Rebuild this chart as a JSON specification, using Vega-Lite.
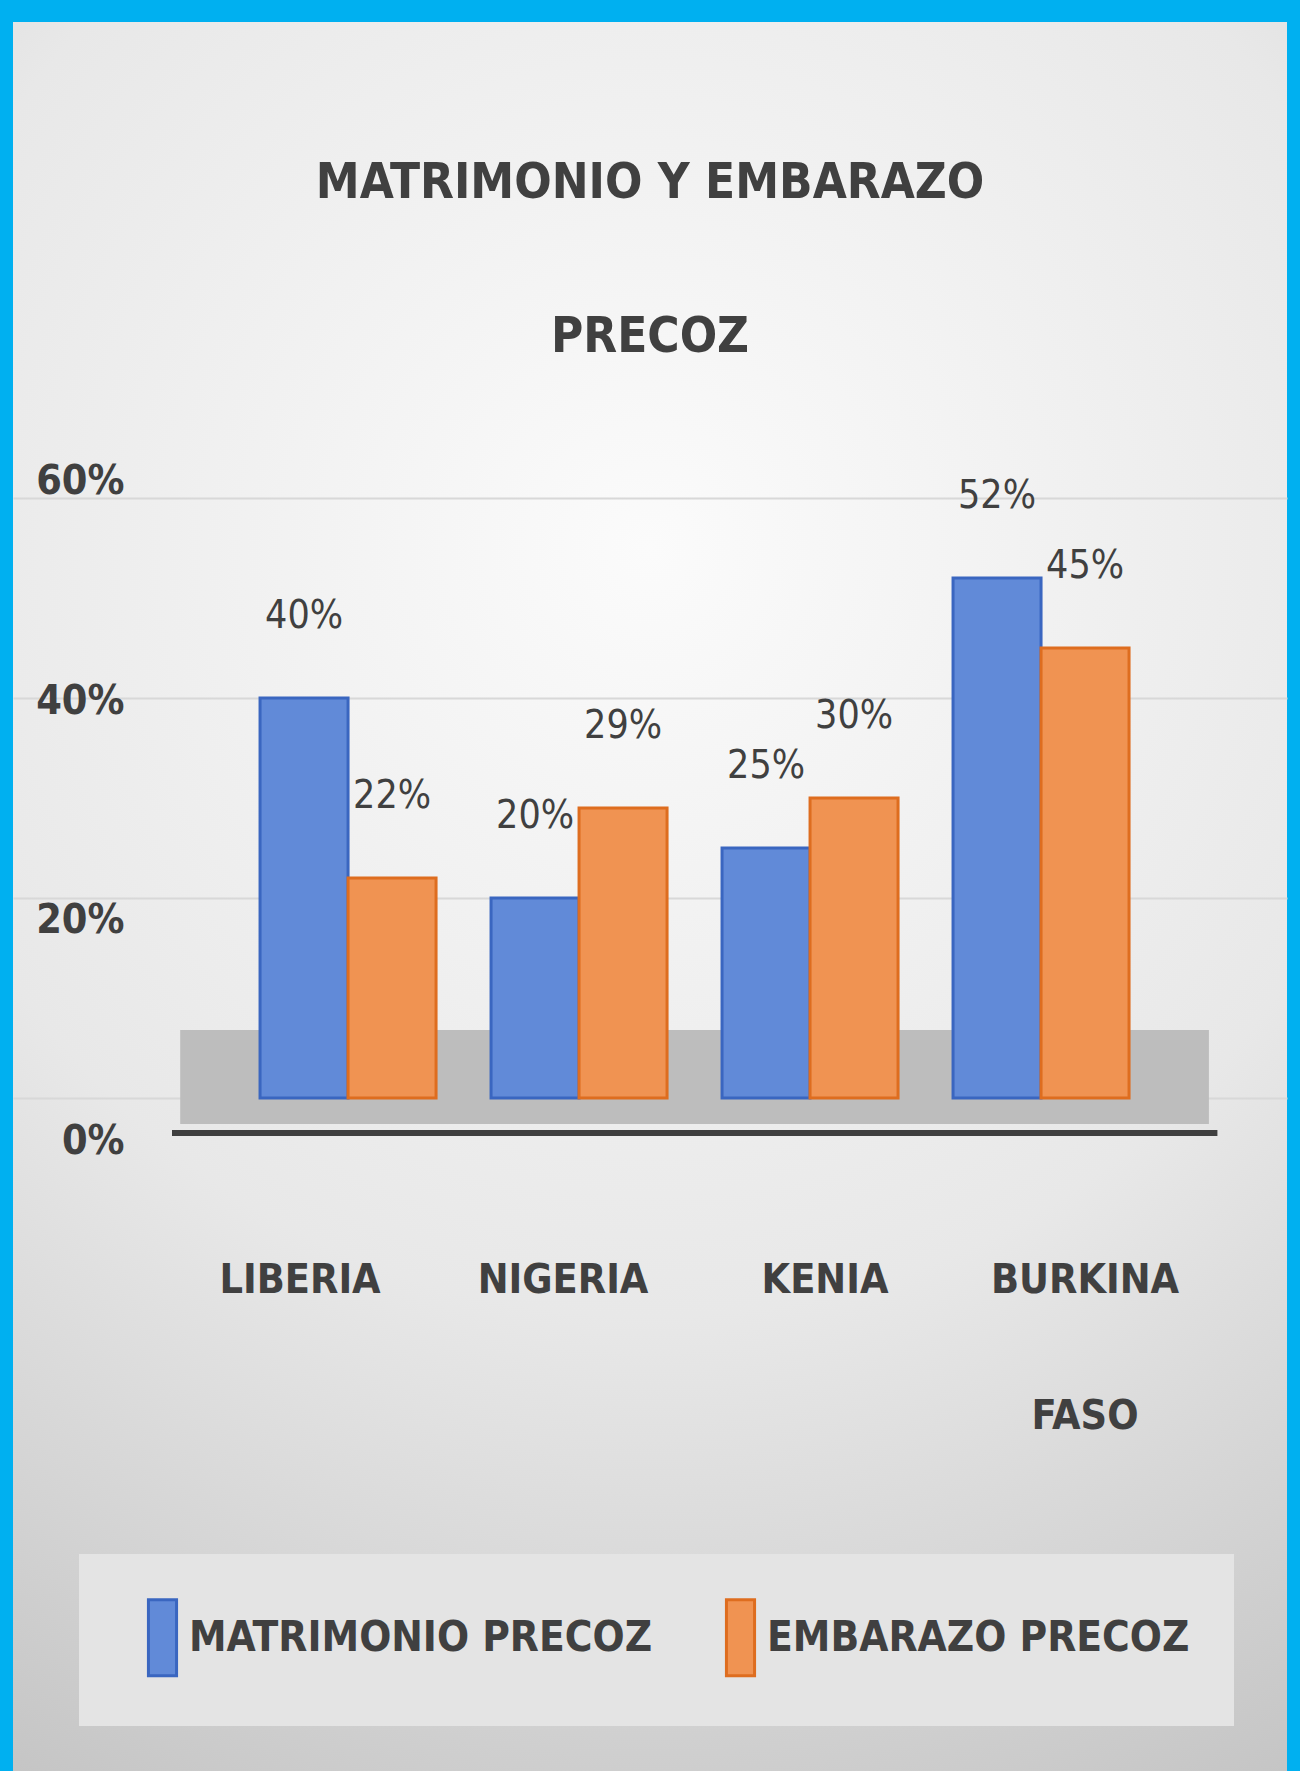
{
  "$schema": "https://vega.github.io/schema/vega-lite/v6.json",
  "width": 1274,
  "height": 1749,
  "autosize": {"type": "none"},
  "padding": {"left": 13, "top": 22, "right": 13, "bottom": 0},
  "background": "#00b0f0",
  "config": {
    "view": {
      "fill": {"gradient": "radial", "x1": 0.5, "y1": 0.3, "r1": 0, "x2": 0.5, "y2": 0.3, "r2": 0.8,
        "stops": [{"offset": 0, "color": "#fbfbfb"}, {"offset": 0.55, "color": "#e8e8e8"}, {"offset": 1, "color": "#c4c4c4"}]},
      "stroke": null
    },
    "font": "DejaVu Sans Condensed, DejaVu Sans, sans-serif"
  },
  "title": {
    "text": ["MATRIMONIO Y EMBARAZO", "PRECOZ"],
    "fontSize": 49,
    "fontWeight": "bold",
    "color": "#404040",
    "lineHeight": 154,
    "anchor": "middle",
    "offset": -340
  },
  "data": {
    "values": [
      {"pais": "LIBERIA", "serie": "MATRIMONIO PRECOZ", "valor": 0.40},
      {"pais": "LIBERIA", "serie": "EMBARAZO PRECOZ", "valor": 0.22},
      {"pais": "NIGERIA", "serie": "MATRIMONIO PRECOZ", "valor": 0.20},
      {"pais": "NIGERIA", "serie": "EMBARAZO PRECOZ", "valor": 0.29},
      {"pais": "KENIA", "serie": "MATRIMONIO PRECOZ", "valor": 0.25},
      {"pais": "KENIA", "serie": "EMBARAZO PRECOZ", "valor": 0.30},
      {"pais": "BURKINA FASO", "serie": "MATRIMONIO PRECOZ", "valor": 0.52},
      {"pais": "BURKINA FASO", "serie": "EMBARAZO PRECOZ", "valor": 0.45}
    ]
  },
  "encoding": {
    "x": {
      "field": "pais",
      "type": "nominal",
      "sort": ["LIBERIA", "NIGERIA", "KENIA", "BURKINA FASO"],
      "scale": {"paddingInner": 0.238, "paddingOuter": 0.8766, "align": 0.61},
      "axis": {
        "title": null,
        "orient": "bottom",
        "offset": -638,
        "domain": false,
        "ticks": false,
        "labelAngle": 0,
        "labelPadding": 127,
        "labelBaseline": "top",
        "labelFontSize": 41,
        "labelFontWeight": "bold",
        "labelColor": "#404040",
        "labelLineHeight": 136,
        "labelLimit": 400,
        "labelOffset": {
          "condition": [
            {"test": "datum.value === 'LIBERIA'", "value": -48},
            {"test": "datum.value === 'NIGERIA'", "value": -16},
            {"test": "datum.value === 'KENIA'", "value": 15}
          ],
          "value": 44
        },
        "labelExpr": "split(datum.label, ' ')"
      }
    },
    "y": {
      "field": "valor",
      "type": "quantitative",
      "scale": {"domain": [-0.673, 1.076], "nice": false, "zero": false},
      "axis": {
        "title": null,
        "values": [0, 0.2, 0.4, 0.6],
        "format": ".0%",
        "offset": -111,
        "labelPadding": 0,
        "domain": false,
        "ticks": false,
        "grid": true,
        "gridColor": "#d8d8d8",
        "gridWidth": 2,
        "labelFontSize": 41,
        "labelFontWeight": "bold",
        "labelColor": "#404040",
        "labelOffset": {
          "condition": [
            {"test": "datum.value === 0", "value": 43},
            {"test": "datum.value === 0.2", "value": 22},
            {"test": "datum.value === 0.4", "value": 3}
          ],
          "value": -17
        }
      }
    }
  },
  "layer": [
    {
      "mark": {"type": "rect", "color": "#bdbdbd"},
      "encoding": {
        "x": {"datum": "LIBERIA", "bandPosition": -0.45},
        "x2": {"datum": "BURKINA FASO", "bandPosition": 1.45},
        "y": {"datum": 0.068},
        "y2": {"datum": -0.026}
      }
    },
    {
      "mark": {"type": "rule", "color": "#3f3f3f", "strokeWidth": 6},
      "encoding": {
        "x": {"datum": "LIBERIA", "bandPosition": -0.5},
        "x2": {"datum": "BURKINA FASO", "bandPosition": 1.5},
        "y": {"datum": -0.035}
      }
    },
    {
      "mark": {"type": "bar", "strokeWidth": 3},
      "encoding": {
        "xOffset": {"field": "serie", "sort": ["MATRIMONIO PRECOZ", "EMBARAZO PRECOZ"], "scale": {"paddingInner": 0, "paddingOuter": 0}},
        "fill": {
          "field": "serie",
          "sort": ["MATRIMONIO PRECOZ", "EMBARAZO PRECOZ"],
          "scale": {"domain": ["MATRIMONIO PRECOZ", "EMBARAZO PRECOZ"], "range": ["#618ad8", "#f09352"]},
          "legend": {
            "title": null,
            "orient": "none",
            "legendX": 66,
            "legendY": 1532,
            "direction": "horizontal",
            "columns": 2,
            "columnPadding": 48,
            "padding": 44,
            "fillColor": "#e4e4e4",
            "symbolType": "M-0.37,-1H0.37V1H-0.37Z",
            "symbolSize": 5776,
            "symbolStrokeWidth": 3,
            "labelFontSize": 42,
            "labelFontWeight": "bold",
            "labelColor": "#404040",
            "labelOffset": -13,
            "labelLimit": 800
          }
        },
        "stroke": {
          "field": "serie",
          "sort": ["MATRIMONIO PRECOZ", "EMBARAZO PRECOZ"],
          "scale": {"domain": ["MATRIMONIO PRECOZ", "EMBARAZO PRECOZ"], "range": ["#3a66c0", "#de6d1f"]}
        }
      }
    },
    {
      "mark": {"type": "text", "baseline": "alphabetic", "dy": -70, "fontSize": 39, "color": "#404040"},
      "encoding": {
        "xOffset": {"field": "serie", "sort": ["MATRIMONIO PRECOZ", "EMBARAZO PRECOZ"], "scale": {"paddingInner": 0, "paddingOuter": 0}},
        "text": {"field": "valor", "type": "quantitative", "format": ".0%"}
      }
    }
  ]
}
